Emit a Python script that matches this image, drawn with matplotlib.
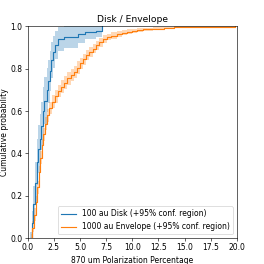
import numpy as np
import matplotlib
matplotlib.use('Agg')
import matplotlib.pyplot as plt

# ECDF of polarization percentage
disk_x = [0.25, 0.4, 0.55, 0.7, 0.85, 1.0, 1.15, 1.3, 1.45, 1.6, 1.8, 1.95,
          2.1, 2.25, 2.4, 2.6, 2.85, 3.5, 4.8, 5.5, 6.5, 7.15]
disk_y = [0.0, 0.07, 0.16, 0.26, 0.36, 0.42, 0.47, 0.53, 0.60, 0.65, 0.70, 0.74,
          0.79, 0.84, 0.88, 0.91, 0.94, 0.95, 0.965, 0.975, 0.98, 1.0]
disk_lo = [0.0, 0.01, 0.075, 0.16, 0.25, 0.307, 0.355, 0.415, 0.488, 0.54, 0.595,
           0.64, 0.697, 0.756, 0.805, 0.844, 0.885, 0.90, 0.922, 0.939, 0.948, 0.95]
disk_hi = [0.03, 0.13, 0.245, 0.36, 0.47, 0.533, 0.585, 0.645, 0.712, 0.76, 0.805,
           0.84, 0.883, 0.924, 0.955, 0.976, 0.995, 1.0, 1.0, 1.0, 1.0, 1.0]

env_x = [0.3, 0.45, 0.6, 0.75, 0.9, 1.05, 1.2, 1.35, 1.5, 1.65, 1.8, 2.0, 2.3, 2.6,
         2.9, 3.2, 3.5, 3.8, 4.1, 4.4, 4.7, 5.0, 5.3, 5.6, 5.9, 6.2, 6.5, 6.8,
         7.2, 7.6, 8.0, 8.5, 9.0, 9.5, 10.0, 10.5, 11.0, 12.0, 13.0, 14.0, 15.0,
         16.0, 19.8]
env_y = [0.0, 0.05, 0.11, 0.17, 0.24, 0.31, 0.38, 0.44, 0.49, 0.54, 0.58, 0.615,
         0.645, 0.67, 0.695, 0.715, 0.735, 0.755, 0.77, 0.785, 0.805, 0.825,
         0.845, 0.865, 0.88, 0.895, 0.91, 0.925, 0.94, 0.95, 0.957, 0.963, 0.97,
         0.975, 0.98, 0.983, 0.986, 0.99, 0.993, 0.996, 0.998, 0.999, 1.0]
env_lo = [0.0, 0.03, 0.08, 0.14, 0.21, 0.28, 0.35, 0.41, 0.46, 0.51, 0.55, 0.585,
          0.615, 0.64, 0.665, 0.685, 0.705, 0.725, 0.74, 0.755, 0.775, 0.8, 0.82,
          0.84, 0.855, 0.875, 0.89, 0.905, 0.92, 0.935, 0.942, 0.95, 0.958, 0.964,
          0.97, 0.974, 0.978, 0.983, 0.987, 0.991, 0.994, 0.996, 0.998]
env_hi = [0.02, 0.08, 0.14, 0.20, 0.27, 0.34, 0.41, 0.47, 0.52, 0.57, 0.61, 0.645,
          0.675, 0.70, 0.725, 0.745, 0.765, 0.785, 0.80, 0.815, 0.835, 0.85, 0.87,
          0.89, 0.905, 0.915, 0.93, 0.945, 0.958, 0.966, 0.972, 0.977, 0.982,
          0.986, 0.99, 0.992, 0.994, 0.997, 0.999, 1.0, 1.0, 1.0, 1.0]

fig, ax = plt.subplots(figsize=(4.8, 4.8), dpi=55)

ax.plot(disk_x, disk_y, drawstyle='steps-post', color='tab:blue',
        label='100 au Disk (+95% conf. region)')
ax.fill_between(disk_x, disk_lo, disk_hi, step='post', color='tab:blue',
                alpha=0.3, lw=0)
ax.plot(env_x, env_y, drawstyle='steps-post', color='tab:orange',
        label='1000 au Envelope (+95% conf. region)')
ax.fill_between(env_x, env_lo, env_hi, step='post', color='tab:orange',
                alpha=0.3, lw=0)

ax.set_xlim(0, 20)
ax.set_ylim(0, 1)
ax.set_xticks(np.arange(0, 20.1, 2.5))
ax.set_xlabel('870 um Polarization Percentage')
ax.set_ylabel('Cumulative probability', labelpad=2)
ax.set_title('Disk / Envelope')
ax.legend(loc='lower right')

fig.subplots_adjust(left=0.105, right=0.897, bottom=0.098, top=0.9)
fig.savefig('out.png', dpi=55)
